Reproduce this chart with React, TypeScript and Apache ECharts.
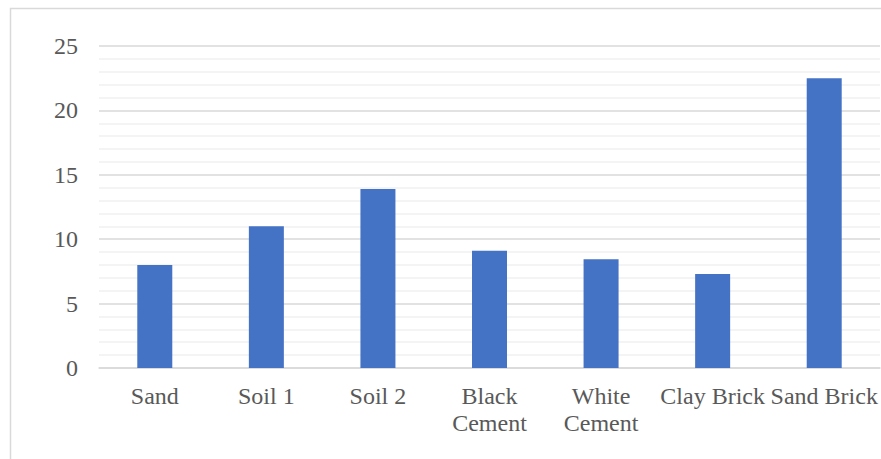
import React, { useEffect, useRef } from "react";
import * as echarts from "echarts";

const categories = ["Sand", "Soil 1", "Soil 2", "Black\nCement", "White\nCement", "Clay Brick", "Sand Brick"];
const values = [8.0, 11.0, 13.9, 9.1, 8.45, 7.3, 22.5];
const yMin = 0;
const yMax = 25;
const yInterval = 5;

export default function App() {
  const ref = useRef<HTMLDivElement>(null);
  useEffect(() => {
    if (!ref.current) return;
    const chart = echarts.init(ref.current, undefined, { renderer: "svg" });
    const font = "'Liberation Serif', 'Times New Roman', serif";
    chart.setOption({
      animation: false,
      backgroundColor: "#ffffff",
      graphic: [
        {
          type: "rect",
          shape: { x: 10.5, y: 8.5, width: 900, height: 500 },
          style: { fill: "none", stroke: "#d9d9d9", lineWidth: 1.5 },
          silent: true,
          z: -1,
        },
      ],
      grid: { left: 99, right: 1, top: 46, bottom: 91, containLabel: false },
      xAxis: {
        type: "category",
        data: categories,
        axisLine: { show: true, lineStyle: { color: "#d9d9d9", width: 1.5 } },
        axisTick: { show: false },
        axisLabel: {
          color: "#595959",
          fontFamily: font,
          fontSize: 24,
          lineHeight: 27,
          margin: 14,
          interval: 0,
        },
        splitLine: { show: false },
      },
      yAxis: {
        type: "value",
        min: yMin,
        max: yMax,
        interval: yInterval,
        axisLine: { show: false },
        axisTick: { show: false },
        axisLabel: {
          color: "#595959",
          fontFamily: font,
          fontSize: 24,
          margin: 21,
        },
        splitLine: { show: true, lineStyle: { color: "#d9d9d9", width: 1.5 } },
        minorTick: { show: false, splitNumber: 5 },
        minorSplitLine: { show: true, lineStyle: { color: "#f0f0f0", width: 1.5 } },
      },
      series: [
        {
          type: "bar",
          data: values,
          barWidth: 35,
          itemStyle: { color: "#4472c4" },
        },
      ],
    });
    return () => chart.dispose();
  }, []);
  return (
    <div
      ref={ref}
      style={{ position: "fixed", left: 0, top: 0, width: 881, height: 459 }}
    />
  );
}
